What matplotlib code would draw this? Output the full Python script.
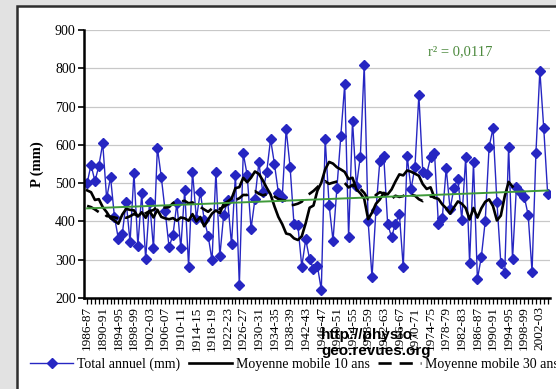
import numpy as np
import pandas as pd
import matplotlib
matplotlib.use("Agg")
import matplotlib.pyplot as plt
from matplotlib.patches import Rectangle

# Annual rainfall totals (mm), hydrological years 1886-87 .. 2004-05
first_year = 1886
totals = [
    500, 548, 505, 545, 604, 460, 516, 412, 355, 366,
    452, 346, 526, 337, 474, 302, 452, 330, 593, 516,
    426, 333, 365, 448, 330, 481, 282, 530, 407, 477,
    404, 363, 298, 530, 309, 418, 455, 340, 522, 233,
    578, 522, 381, 458, 554, 477, 528, 615, 550, 475,
    464, 641, 543, 393, 390, 282, 353, 302, 275, 284,
    221, 615, 443, 350, 487, 623, 758, 359, 663, 493,
    569, 809, 400, 254, 430, 558, 571, 394, 359, 394,
    420, 280, 571, 484, 543, 730, 530, 524, 567, 580,
    394, 408, 539, 432, 488, 512, 404, 567, 292, 554,
    249, 307, 400, 595, 643, 452, 291, 266, 595, 301,
    491, 478, 465, 417, 269, 580, 794, 643, 472,
]
years = list(range(first_year, first_year + len(totals)))
seasons = [f"{y}-{(y + 1) % 100:02d}" for y in years]
seasons[0] = "1986-87"
label_every = 4
r2_text = "r\u00b2 = 0,0117"

SERIF = "Liberation Serif"
BLUE = "#2626c2"
GREEN = "#3f9a3a"

x = np.arange(len(totals))
s = pd.Series(totals, dtype=float)
# moving means plotted at the first year of each window
ma10 = s.rolling(10).mean().shift(-9)
ma30 = s.rolling(30).mean().shift(-29)
slope, intercept = np.polyfit(x, totals, 1)
trend = intercept + slope * x

W, H = 556, 389
fig = plt.figure(figsize=(W / 100, H / 100), dpi=100)
fig.patch.set_facecolor("#e2e2e2")
fig.patches.append(Rectangle((17 / W, -0.1), 1.2, 1 - 6 / H + 0.1,
                             transform=fig.transFigure, facecolor="white",
                             edgecolor="#2e2e2e", lw=1.8, zorder=-10))

ax = fig.add_axes([84 / W, 1 - 298 / H, (550 - 84) / W, (298 - 30) / H])
ax.set_facecolor("white")

l_tot, = ax.plot(x, totals, color=BLUE, lw=1.0, marker="D", ms=4.8,
                 mfc=BLUE, mec=BLUE, zorder=2)
l_10, = ax.plot(x, ma10, color="black", lw=1.9, zorder=3)
l_30, = ax.plot(x, ma30, color="black", lw=1.9, dashes=(5, 3), zorder=3)
ax.plot(x, trend, color=GREEN, lw=1.4, zorder=4)

ax.set_xlim(-0.8, len(totals) - 0.4)
ax.set_ylim(200, 900)
ax.set_yticks(range(200, 901, 100))
ax.yaxis.grid(True, color="#c8c8c8", lw=0.9)
ax.set_axisbelow(True)

ax.set_xticks(x)
ax.set_xticklabels([lab if i % label_every == 0 else "" for i, lab in enumerate(seasons)],
                   rotation=90, family=SERIF, fontsize=9.5)
ax.tick_params(axis="x", length=4, width=0.9, pad=2)
ax.tick_params(axis="y", length=4, width=1.2, pad=2, labelsize=10)
for lab in ax.get_yticklabels():
    lab.set_family(SERIF)

for side in ("top", "right"):
    ax.spines[side].set_visible(False)
ax.spines["left"].set_linewidth(1.8)
ax.spines["bottom"].set_linewidth(1.8)

ax.set_ylabel("P (mm)", family=SERIF, fontsize=10.5, fontweight="bold", labelpad=8)

fig.text(428 / W, 1 - 52 / H, r2_text, family=SERIF, fontsize=10.5,
         color="#4d8a3e", va="center")

fig.legend([l_tot, l_10, l_30],
           ["Total annuel (mm)", "Moyenne mobile 10 ans", "Moyenne mobile 30 ans"],
           loc="center left", bbox_to_anchor=(30 / W, 1 - 364 / H), ncol=3,
           frameon=False, numpoints=1, handlelength=3.1, handletextpad=0.3,
           columnspacing=0.6, borderpad=0, borderaxespad=0,
           prop={"family": SERIF, "size": 10})

fig.text(321 / W, 1 - 343 / H, "http://physio-\ngeo.revues.org",
         family="Liberation Sans", fontweight="bold", fontsize=11,
         va="center", ha="left", linespacing=1.25, zorder=10)

fig.savefig("out.png", dpi=100)
